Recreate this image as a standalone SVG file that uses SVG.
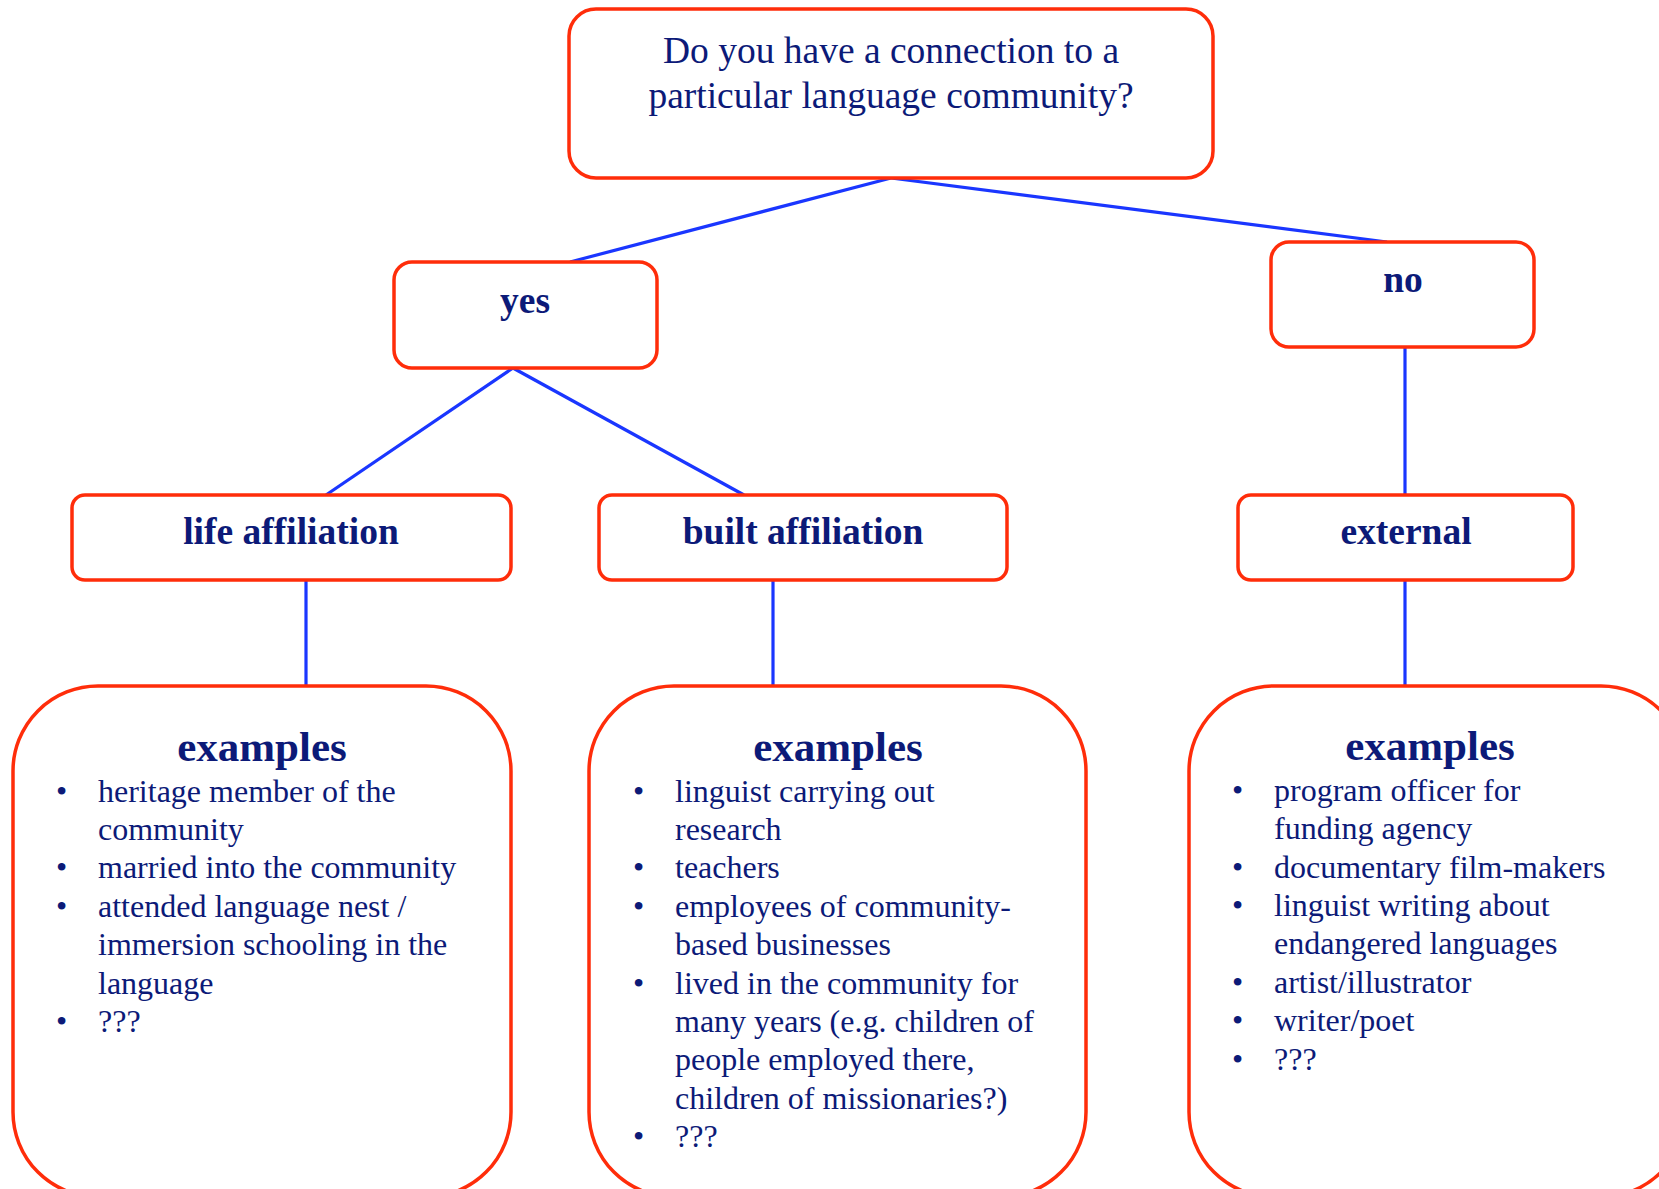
<svg xmlns="http://www.w3.org/2000/svg" width="1659" height="1189" viewBox="0 0 1659 1189">
<style>
.box{fill:#ffffff;stroke:#ff2d0a;stroke-width:3.5}
.conn{stroke:#1a36ff;stroke-width:3.2;fill:none}
.q{font-family:"Liberation Serif","Times New Roman",serif;font-size:37.5px;fill:#0c1a78;text-anchor:middle}
.lab{font-family:"Liberation Serif","Times New Roman",serif;font-size:37.5px;font-weight:bold;fill:#0c1a78;text-anchor:middle}
.hd{font-family:"Liberation Serif","Times New Roman",serif;font-size:43px;font-weight:bold;fill:#0c1a78;text-anchor:middle}
.it{font-family:"Liberation Serif","Times New Roman",serif;font-size:32px;fill:#0c1a78}
</style>
<rect width="1659" height="1189" fill="#ffffff"/>
<g id="connectors">
<line class="conn" x1="891" y1="178" x2="570" y2="262"/>
<line class="conn" x1="891" y1="178" x2="1387" y2="242"/>
<line class="conn" x1="513" y1="368" x2="326" y2="495"/>
<line class="conn" x1="513" y1="368" x2="744" y2="495"/>
<line class="conn" x1="1405" y1="347" x2="1405" y2="495"/>
<line class="conn" x1="306" y1="580" x2="306" y2="686"/>
<line class="conn" x1="773" y1="580" x2="773" y2="686"/>
<line class="conn" x1="1405" y1="580" x2="1405" y2="686"/>
</g>
<g id="question">
<rect class="box" x="569" y="9" width="644" height="169" rx="27"/>
<text class="q" x="891" y="63">Do you have a connection to a</text>
<text class="q" x="891" y="108">particular language community?</text>
</g>
<g id="yes">
<rect class="box" x="394" y="262" width="263" height="106" rx="18"/>
<text class="lab" x="525" y="313">yes</text>
</g>
<g id="no">
<rect class="box" x="1271" y="242" width="263" height="105" rx="18"/>
<text class="lab" x="1403" y="292">no</text>
</g>
<g id="life-affiliation">
<rect class="box" x="72" y="495" width="439" height="85" rx="13"/>
<text class="lab" x="291" y="544">life affiliation</text>
</g>
<g id="built-affiliation">
<rect class="box" x="599" y="495" width="408" height="85" rx="13"/>
<text class="lab" x="803" y="544">built affiliation</text>
</g>
<g id="external">
<rect class="box" x="1238" y="495" width="335" height="85" rx="13"/>
<text class="lab" x="1406" y="544">external</text>
</g>
<g id="examples-life">
<rect class="box" x="13" y="686" width="498" height="511" rx="85"/>
<text class="hd" x="262" y="761">examples</text>
<g class="it">
<text x="56" y="802">•</text><text x="98" y="802">heritage member of the</text>
<text x="98" y="840">community</text>
<text x="56" y="878">•</text><text x="98" y="878">married into the community</text>
<text x="56" y="917">•</text><text x="98" y="917">attended language nest /</text>
<text x="98" y="955">immersion schooling in the</text>
<text x="98" y="994">language</text>
<text x="56" y="1032">•</text><text x="98" y="1032">???</text>
</g>
</g>
<g id="examples-built">
<rect class="box" x="589" y="686" width="497" height="511" rx="85"/>
<text class="hd" x="838" y="761">examples</text>
<g class="it">
<text x="633" y="802">•</text><text x="675" y="802">linguist carrying out</text>
<text x="675" y="840">research</text>
<text x="633" y="878">•</text><text x="675" y="878">teachers</text>
<text x="633" y="917">•</text><text x="675" y="917">employees of community-</text>
<text x="675" y="955">based businesses</text>
<text x="633" y="994">•</text><text x="675" y="994">lived in the community for</text>
<text x="675" y="1032">many years (e.g. children of</text>
<text x="675" y="1070">people employed there,</text>
<text x="675" y="1109">children of missionaries?)</text>
<text x="633" y="1147">•</text><text x="675" y="1147">???</text>
</g>
</g>
<g id="examples-external">
<rect class="box" x="1189" y="686" width="497" height="511" rx="85"/>
<text class="hd" x="1430" y="760">examples</text>
<g class="it">
<text x="1232" y="801">•</text><text x="1274" y="801">program officer for</text>
<text x="1274" y="839">funding agency</text>
<text x="1232" y="878">•</text><text x="1274" y="878">documentary film-makers</text>
<text x="1232" y="916">•</text><text x="1274" y="916">linguist writing about</text>
<text x="1274" y="954">endangered languages</text>
<text x="1232" y="993">•</text><text x="1274" y="993">artist/illustrator</text>
<text x="1232" y="1031">•</text><text x="1274" y="1031">writer/poet</text>
<text x="1232" y="1070">•</text><text x="1274" y="1070">???</text>
</g>
</g>
</svg>
